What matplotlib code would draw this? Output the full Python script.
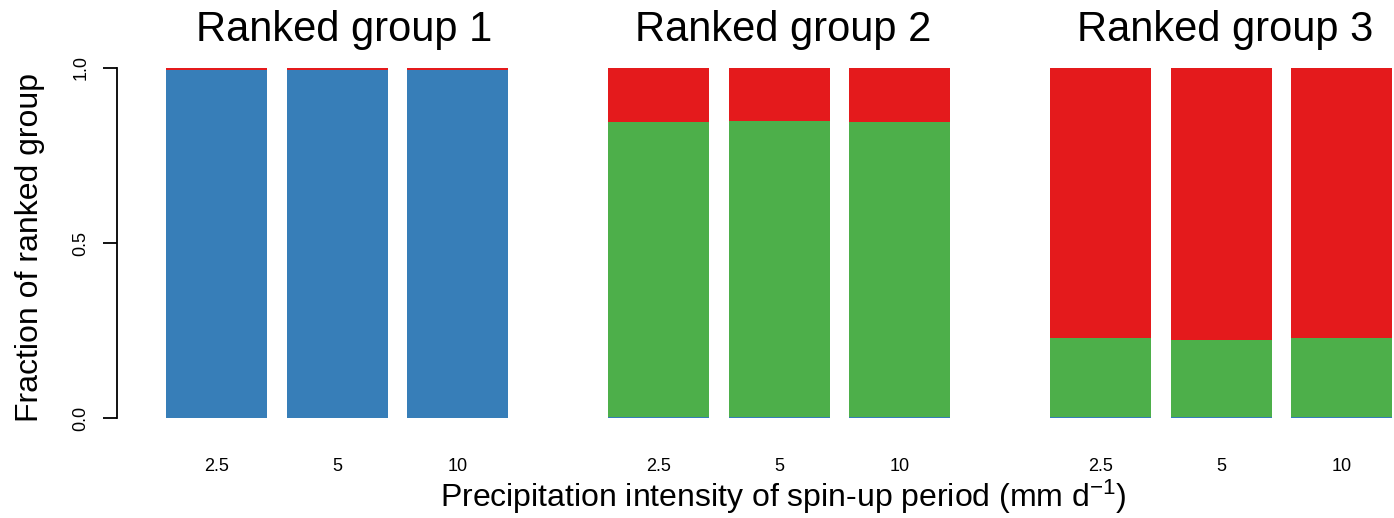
import numpy as np
import matplotlib
matplotlib.use('Agg')
import matplotlib.pyplot as plt
import matplotlib.transforms as mtransforms

plt.rcParams['font.family'] = ['Liberation Sans', 'DejaVu Sans']
plt.rcParams['mathtext.fontset'] = 'custom'
plt.rcParams['mathtext.rm'] = 'Liberation Sans'
plt.rcParams['mathtext.it'] = 'Liberation Sans:italic'

groups = ['Ranked group 1', 'Ranked group 2', 'Ranked group 3']
intensities = ['2.5', '5', '10']

# fractions per group (rows) and intensity (columns)
frac_blue = np.array([[0.995, 0.995, 0.995],
                      [0.003, 0.003, 0.003],
                      [0.003, 0.003, 0.003]])
frac_green = np.array([[0.0, 0.0, 0.0],
                       [0.843, 0.846, 0.843],
                       [0.226, 0.220, 0.226]])
frac_red = 1 - frac_blue - frac_green

c_blue = '#377EB8'
c_green = '#4DAF4A'
c_red = '#E41A1C'

fig = plt.figure(figsize=(13.94, 5.18), dpi=100)
ax = fig.add_axes([117 / 1394, 100 / 518, 1 - 117 / 1394, 350 / 518])

group_step = 3.67
width = 0.838
title_shift = [0.06, 0.03, 0.03]
pos = []
labels = []
trans = mtransforms.blended_transform_factory(ax.transData, ax.transAxes)
for g in range(len(groups)):
    x = g * group_step + np.arange(len(intensities))
    ax.bar(x, frac_blue[g], width=width, color=c_blue)
    ax.bar(x, frac_green[g], width=width, bottom=frac_blue[g], color=c_green)
    ax.bar(x, frac_red[g], width=width, bottom=frac_blue[g] + frac_green[g], color=c_red)
    pos.extend(x)
    labels.extend(intensities)
    ax.text(g * group_step + 1 + title_shift[g], 1.109, groups[g], transform=trans,
            ha='center', va='center', fontsize=30)

ax.set_xlim(-0.826, 9.772)
ax.set_ylim(0, 1)
ax.set_xticks(pos)
ax.set_xticklabels(labels, fontsize=13)
ax.tick_params(axis='x', length=0, pad=29)
ax.set_yticks([0, 0.5, 1.0])
ax.set_yticklabels(['0.0', '0.5', '1.0'], rotation=90, va='center', fontsize=13)
ax.tick_params(axis='y', length=10, width=1.3, pad=10)
for s in ['top', 'right', 'bottom']:
    ax.spines[s].set_visible(False)
ax.spines['left'].set_linewidth(1.3)

fig.text(30 / 1394, 1 - 247 / 518, 'Fraction of ranked group', rotation=90,
         ha='center', va='center', fontsize=23)
fig.text(783 / 1394, 1 - 497 / 518,
         'Precipitation intensity of spin-up period (mm d$^{-1}$)',
         ha='center', va='center', fontsize=23)

fig.savefig('out.png', dpi=100)
